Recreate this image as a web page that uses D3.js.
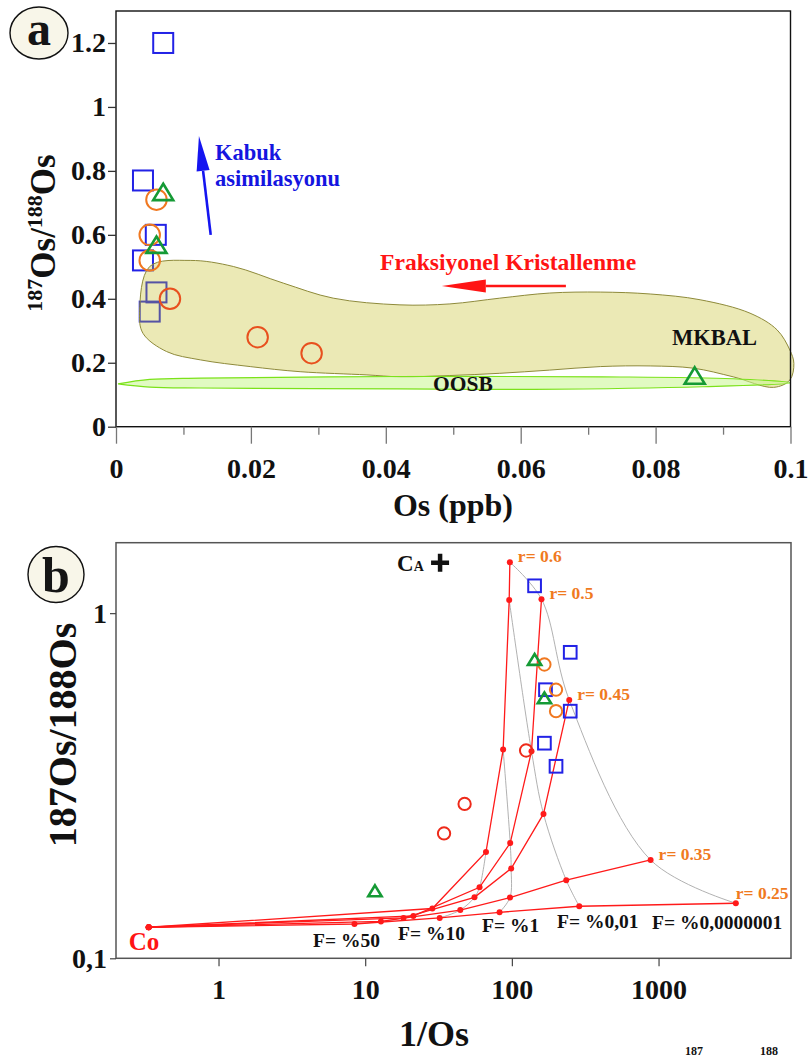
<!DOCTYPE html>
<html><head><meta charset="utf-8">
<script src="https://cdn.jsdelivr.net/npm/d3@7"></script>
<style>
body{margin:0;background:#fff}
svg{display:block}
text{font-family:"Liberation Serif","Times New Roman",serif;font-weight:bold}
</style>
</head><body>
<svg id="fig" width="810" height="1057"></svg>
<script>
// ---- samples: Os (ppb) and 187Os/188Os ----
const squareOs      = [0.0070, 0.0040, 0.0059, 0.0040, 0.0060, 0.0050];
const squareRatio   = [1.20, 0.77, 0.60, 0.52, 0.42, 0.36];
const orangeOs      = [0.0060, 0.0050, 0.0050];
const orangeRatio   = [0.71, 0.60, 0.52];
const redOs         = [0.0080, 0.0210, 0.0290];
const redRatio      = [0.40, 0.28, 0.23];
const triangleOs    = [0.0070, 0.0060, 0.0858];
const triangleRatio = [0.73, 0.565, 0.156];

// ---- MKBAL field outline (Os, 187Os/188Os) ----
const mkbalOs    = [0.0035,0.0050,0.0110,0.0174,0.0248,0.0322,0.0421,0.0495,0.0569,0.0643,0.0718,0.0792,0.0866,0.0940,0.0980,0.0999,0.1005,0.0999,0.0975,
                    0.0915,0.0856,0.0792,0.0718,0.0643,0.0569,0.0495,0.0421,0.0372,0.0273,0.0199,0.0125,0.0075,0.0040];
const mkbalRatio = [0.360,0.501,0.520,0.501,0.449,0.402,0.381,0.384,0.402,0.418,0.421,0.415,0.397,0.355,0.303,0.240,0.198,0.146,0.123,
                    0.156,0.183,0.190,0.188,0.177,0.167,0.160,0.156,0.162,0.172,0.188,0.209,0.235,0.292];
// ---- OOSB field outline ----
const oosbOs    = [0.0003,0.0050,0.0125,0.0420,0.0720,0.0915,0.1000,0.0870,0.0620,0.0420,0.0125,0.0050];
const oosbRatio = [0.134,0.148,0.152,0.157,0.156,0.150,0.137,0.125,0.117,0.118,0.121,0.124];

// ---- mixing / fractional crystallisation model (1/Os, 187Os/188Os) ----
const coX = 0.334, coY = 0.123;
const caX = 32.4,  caY = 1.40;
const rLabels = ["r= 0.6", "r= 0.5", "r= 0.45", "r= 0.35", "r= 0.25"];
const fLabels = ["F= %50", "F= %10", "F= %1", "F= %0,01", "F= %0,0000001"];
const r060X = [28.7, 66.6, 87.2, 95.9, 96.9];
const r060Y = [0.1394, 0.2032, 0.4025, 1.091, 1.405];
const r050X = [21.3, 60.2, 97.4, 136.1, 159.2];
const r050Y = [0.1327, 0.1606, 0.2157, 0.398, 1.098];
const r045X = [18.25, 55.6, 98.9, 164.3, 246.1];
const r045Y = [0.1309, 0.1502, 0.182, 0.262, 0.5607];
const r035X = [12.8, 44.5, 97.1, 234.8, 883];
const r035Y = [0.1279, 0.138, 0.150, 0.1684, 0.1927];
const r025X = [8.45, 32.2, 82.4, 288, 3365];
const r025Y = [0.1257, 0.1309, 0.1359, 0.1415, 0.1444];

// ---- axis ticks ----
const aXTicks = [0, 0.02, 0.04, 0.06, 0.08, 0.1];
const aXMinor = [0.01, 0.03, 0.05, 0.07, 0.09];
const aYTicks = [0, 0.2, 0.4, 0.6, 0.8, 1, 1.2];
const bXTicks = [1, 10, 100, 1000];
const bYTicks = [0.1, 1];

const svg = d3.select("#fig");
const C = {blue:"#2222e6", orange:"#f07820", red:"#ee2a1a", redA:"#e8501e", green:"#159a35",
           line:"#ff1a1a", grey:"#a8a8a8"};

function trianglePath(cx, cy, w, h){
  return `M${cx},${cy-h*0.58}L${cx+w/2},${cy+h*0.42}L${cx-w/2},${cy+h*0.42}Z`;
}
function drawMarkers(g, xs, ys, sx, sy, kind, color, size, sw, xf){
  const pts = xs.map((v,i)=>({x:xf?xf(v):v, y:ys[i]}));
  if(kind==="square"){
    g.selectAll(null).data(pts).join("rect")
      .attr("x",d=>sx(d.x)-size/2).attr("y",d=>sy(d.y)-size/2)
      .attr("width",size).attr("height",size)
      .attr("fill","none").attr("stroke",color).attr("stroke-width",sw);
  } else if(kind==="circle"){
    g.selectAll(null).data(pts).join("circle")
      .attr("cx",d=>sx(d.x)).attr("cy",d=>sy(d.y)).attr("r",size/2)
      .attr("fill","none").attr("stroke",color).attr("stroke-width",sw);
  } else {
    g.selectAll(null).data(pts).join("path")
      .attr("d",d=>trianglePath(sx(d.x), sy(d.y), size, size*0.82))
      .attr("fill","none").attr("stroke",color).attr("stroke-width",sw+0.6);
  }
}
function arrow(g, x1, y1, x2, y2, color, headLen, headW, sw){
  const a = Math.atan2(y2-y1, x2-x1);
  const bx = x2 - headLen*Math.cos(a), by = y2 - headLen*Math.sin(a);
  g.append("line").attr("x1",x1).attr("y1",y1).attr("x2",bx).attr("y2",by)
    .attr("stroke",color).attr("stroke-width",sw);
  const px = -Math.sin(a)*headW/2, py = Math.cos(a)*headW/2;
  g.append("path").attr("d",`M${x2},${y2}L${bx+px},${by+py}L${bx-px},${by-py}Z`).attr("fill",color);
}
function badge(cx, cy, rx, ry, letter, ty, fs){
  svg.append("ellipse").attr("cx",cx).attr("cy",cy).attr("rx",rx).attr("ry",ry)
    .attr("fill","#f8f6e9").attr("stroke","#111").attr("stroke-width",1.4);
  svg.append("text").attr("x",cx).attr("y",ty).attr("text-anchor","middle")
    .attr("font-size",fs).attr("fill","#151515").text(letter);
}

// =========================== panel a ===========================
const xa = d3.scaleLinear().domain([0, 0.1]).range([116, 790.5]);
const ya = d3.scaleLinear().domain([0, 1.3]).range([426.7, 11]);
const ga = svg.append("g");

// squares sitting inside the MKBAL field are drawn first so the field tints them
drawMarkers(ga, squareOs, squareRatio, xa, ya, "square", C.blue, 20, 2);

const closedLine = d3.line().x(d=>xa(d[0])).y(d=>ya(d[1])).curve(d3.curveCatmullRomClosed.alpha(0.5));
ga.append("path").attr("d", closedLine(mkbalOs.map((v,i)=>[v, mkbalRatio[i]])))
  .attr("fill","#c2bb1a").attr("fill-opacity",0.32).attr("stroke","#8e8a3a").attr("stroke-width",1);
const lensLine = d3.line().x(d=>xa(d[0])).y(d=>ya(d[1])).curve(d3.curveCatmullRom.alpha(0.5));
ga.append("path").attr("d", lensLine(oosbOs.map((v,i)=>[v, oosbRatio[i]]).concat([[oosbOs[0],oosbRatio[0]]])) + "Z")
  .attr("fill","#c8f590").attr("fill-opacity",0.55).attr("stroke","#7be21a").attr("stroke-width",1.2);

drawMarkers(ga, orangeOs, orangeRatio, xa, ya, "circle", C.orange, 20.5, 2);
drawMarkers(ga, redOs, redRatio, xa, ya, "circle", C.redA, 20.5, 2);
drawMarkers(ga, triangleOs, triangleRatio, xa, ya, "triangle", C.green, 20, 2);

// frame and axes
ga.append("rect").attr("x",116).attr("y",11).attr("width",674.5).attr("height",415.7)
  .attr("fill","none").attr("stroke","#111").attr("stroke-width",1.4);
const axA = ga.append("g").attr("transform","translate(0,426.7)")
  .call(d3.axisBottom(xa).tickValues(aXTicks).tickSize(17).tickPadding(14).tickFormat(d3.format("~g")));
axA.select(".domain").remove();
axA.selectAll(".tick line").attr("stroke","#777").attr("stroke-width",1.3);
axA.selectAll("text").attr("font-size",28).attr("fill","#111").attr("font-family",null);
const axAm = ga.append("g").attr("transform","translate(0,426.7)")
  .call(d3.axisBottom(xa).tickValues(aXMinor).tickSize(8).tickFormat(""));
axAm.select(".domain").remove();
axAm.selectAll(".tick line").attr("stroke","#777").attr("stroke-width",1.3);
const ayA = ga.append("g").attr("transform","translate(116,0)")
  .call(d3.axisLeft(ya).tickValues(aYTicks).tickSize(8).tickPadding(2).tickFormat(d3.format("~g")));
ayA.select(".domain").remove();
ayA.selectAll(".tick line").attr("stroke","#333").attr("stroke-width",1.3);
ayA.selectAll("text").attr("font-size",28).attr("fill","#111").attr("font-family",null);

// annotations
arrow(ga, xa(0.01404), ya(0.5996), xa(0.0123), ya(0.909), "#1515f0", 35, 13, 2.6);
ga.append("text").attr("x",215).attr("y",160).attr("font-size",22.5).attr("fill","#1515e0").text("Kabuk");
ga.append("text").attr("x",215).attr("y",186).attr("font-size",22.5).attr("fill","#1515e0").text("asimilasyonu");
arrow(ga, xa(0.0667), ya(0.44), xa(0.0483), ya(0.44), "#ff1414", 44, 13, 2.6);
ga.append("text").attr("x",380).attr("y",270).attr("font-size",23.6).attr("fill","#ff1414").text("Fraksiyonel Kristallenme");
ga.append("text").attr("x",672).attr("y",345).attr("font-size",22.5).attr("fill","#111").text("MKBAL");
ga.append("text").attr("x",433).attr("y",391).attr("font-size",21.5).attr("fill","#111").text("OOSB");

// axis titles
ga.append("text").attr("x",453).attr("y",516).attr("text-anchor","middle").attr("font-size",32).attr("fill","#111").text("Os (ppb)");
const tA = ga.append("text").attr("transform","translate(55,233) rotate(-90)").attr("text-anchor","middle")
  .attr("font-size",35).attr("fill","#111");
tA.append("tspan").attr("font-size",22).attr("dy",-13).text("187");
tA.append("tspan").attr("dy",13).text("Os/");
tA.append("tspan").attr("font-size",22).attr("dy",-13).text("188");
tA.append("tspan").attr("dy",13).text("Os");

badge(39, 33, 29, 26, "a", 45, 48);

// =========================== panel b ===========================
const xb = d3.scaleLog().domain([0.2, 8000]).range([116, 791]);
const yb = d3.scaleLog().domain([0.1, 1.6]).range([958.3, 542.7]);
const gb = svg.append("g");

const rX = [r060X, r050X, r045X, r035X, r025X];
const rY = [r060Y, r050Y, r045Y, r035Y, r025Y];
const curves = rX.map((xs,k)=>[[coX,coY]].concat(xs.map((v,i)=>[v, rY[k][i]])));

// iso-F lines (thin grey)
const smooth = d3.line().x(d=>xb(d[0])).y(d=>yb(d[1])).curve(d3.curveCatmullRom.alpha(0.5));
fLabels.forEach((f,i)=>{
  gb.append("path").attr("d", smooth(rX.map((xs,k)=>[xs[i], rY[k][i]])))
    .attr("fill","none").attr("stroke",C.grey).attr("stroke-width",0.9);
});
// model curves (red)
const straight = d3.line().x(d=>xb(d[0])).y(d=>yb(d[1]));
curves.forEach(c=>{
  gb.append("path").attr("d", straight(c)).attr("fill","none").attr("stroke",C.line).attr("stroke-width",1.3);
  gb.selectAll(null).data(c).join("circle").attr("cx",d=>xb(d[0])).attr("cy",d=>yb(d[1]))
    .attr("r",3).attr("fill",C.line);
});

// samples against 1/Os
const inv = v => 1/v;
drawMarkers(gb, squareOs, squareRatio, xb, yb, "square", C.blue, 12.7, 2, inv);
drawMarkers(gb, orangeOs, orangeRatio, xb, yb, "circle", C.orange, 12.3, 2, inv);
drawMarkers(gb, redOs, redRatio, xb, yb, "circle", C.red, 12.3, 2, inv);
drawMarkers(gb, triangleOs, triangleRatio, xb, yb, "triangle", C.green, 13.3, 2, inv);

// crustal end member
const cxp = xb(caX), cyp = yb(caY);
gb.append("path").attr("d",`M${cxp-9},${cyp}H${cxp+9}M${cxp},${cyp-9}V${cyp+9}`)
  .attr("stroke","#111").attr("stroke-width",4.5);
const ca = gb.append("text").attr("x",cxp-43).attr("y",cyp+8.5).attr("font-size",23).attr("fill","#111");
ca.append("tspan").text("C");
ca.append("tspan").attr("font-size",14).text("A");

// labels
rLabels.forEach((t,k)=>{
  const n = rX[k].length-1;
  const dx = k===4 ? 0 : 8, dy = k===4 ? -4 : 0;
  gb.append("text").attr("x",xb(rX[k][n])+dx).attr("y",yb(rY[k][n])+dy)
    .attr("font-size",17.5).attr("fill","#f07a1e").text(t);
});
const fPos = [[313,946.7],[398,939.5],[482,932],[557,928],[652,928.5]];
fLabels.forEach((t,i)=>{
  gb.append("text").attr("x",fPos[i][0]).attr("y",fPos[i][1]).attr("font-size",19.5).attr("fill","#111").text(t);
});
gb.append("text").attr("x",xb(coX)-20).attr("y",yb(coY)+23).attr("font-size",25).attr("fill","#ff1414").text("Co");

// frame and axes
gb.append("rect").attr("x",116).attr("y",542.7).attr("width",675).attr("height",415.6)
  .attr("fill","none").attr("stroke","#555").attr("stroke-width",1.5);
const axB = gb.append("g").attr("transform","translate(0,958.3)")
  .call(d3.axisBottom(xb).tickValues(bXTicks).tickSize(8).tickPadding(13).tickFormat(d3.format("~g")));
axB.select(".domain").remove();
axB.selectAll(".tick line").attr("stroke","#444").attr("stroke-width",1.2);
axB.selectAll("text").attr("font-size",28).attr("fill","#111").attr("font-family",null);
const ayB = gb.append("g").attr("transform","translate(116,0)")
  .call(d3.axisLeft(yb).tickValues(bYTicks).tickSize(6).tickPadding(3).tickFormat(d=>d===1?"1":"0,1"));
ayB.select(".domain").remove();
ayB.selectAll(".tick line").attr("stroke","#444").attr("stroke-width",1.2);
ayB.selectAll("text").attr("font-size",28).attr("fill","#111").attr("font-family",null);

gb.append("text").attr("x",434).attr("y",1046).attr("text-anchor","middle").attr("font-size",36).attr("fill","#111").text("1/Os");
gb.append("text").attr("transform","translate(76,735) rotate(-90)").attr("text-anchor","middle")
  .attr("font-size",40).attr("fill","#111").text("187Os/188Os");

badge(56, 574.5, 28, 28, "b", 591.5, 50);

// start of the caption line below the figure
svg.append("text").attr("x",685).attr("y",1055).attr("font-size",12).attr("font-weight","normal").attr("fill","#111").text("187");
svg.append("text").attr("x",760).attr("y",1055).attr("font-size",12).attr("font-weight","normal").attr("fill","#111").text("188");
</script>
</body></html>
